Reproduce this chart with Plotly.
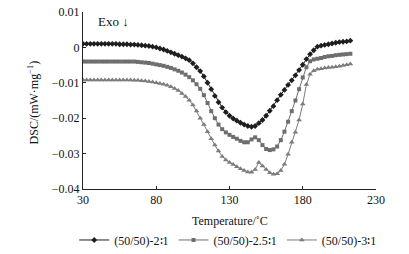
import plotly.graph_objects as go

temperature = [30 + 2.5 * i for i in range(74)]

dsc_2_1 = [0.0010, 0.0010, 0.0010, 0.0010, 0.0010, 0.0010, 0.0010, 0.0010, 0.0010, 0.0010,
           0.0009, 0.0009, 0.0009, 0.0008, 0.0008, 0.0007, 0.0006, 0.0005, 0.0004, 0.0002,
           0.0000, -0.0003, -0.0006, -0.0010, -0.0014, -0.0018, -0.0022, -0.0026, -0.0031, -0.0036,
           -0.0045, -0.0056, -0.0067, -0.0082, -0.0100, -0.0118, -0.0137, -0.0155, -0.0170, -0.0183,
           -0.0193, -0.0201, -0.0207, -0.0213, -0.0218, -0.0222, -0.0224, -0.0222, -0.0214, -0.0205,
           -0.0193, -0.0179, -0.0166, -0.0149, -0.0134, -0.0120, -0.0106, -0.0093, -0.0079, -0.0064,
           -0.0049, -0.0033, -0.0019, -0.0008, 0.0002, 0.0005, 0.0007, 0.0009, 0.0011, 0.0013,
           0.0015, 0.0016, 0.0017, 0.0019]

dsc_25_1 = [-0.0040, -0.0040, -0.0040, -0.0040, -0.0040, -0.0040, -0.0040, -0.0040, -0.0040, -0.0040,
            -0.0040, -0.0040, -0.0040, -0.0040, -0.0040, -0.0041, -0.0042, -0.0043, -0.0044, -0.0046,
            -0.0048, -0.0050, -0.0052, -0.0055, -0.0058, -0.0062, -0.0066, -0.0071, -0.0077, -0.0084,
            -0.0093, -0.0104, -0.0117, -0.0135, -0.0157, -0.0180, -0.0200, -0.0218, -0.0231, -0.0240,
            -0.0247, -0.0253, -0.0258, -0.0264, -0.0268, -0.0268, -0.0260, -0.0254, -0.0262, -0.0276,
            -0.0287, -0.0290, -0.0288, -0.0280, -0.0262, -0.0238, -0.0210, -0.0180, -0.0150, -0.0118,
            -0.0085, -0.0056, -0.0039, -0.0034, -0.0032, -0.0030, -0.0027, -0.0025, -0.0024, -0.0022,
            -0.0021, -0.0020, -0.0019, -0.0018]

dsc_3_1 = [-0.0092, -0.0092, -0.0092, -0.0092, -0.0092, -0.0092, -0.0092, -0.0092, -0.0092, -0.0092,
           -0.0092, -0.0092, -0.0092, -0.0092, -0.0093, -0.0093, -0.0094, -0.0095, -0.0096, -0.0098,
           -0.0100, -0.0102, -0.0104, -0.0107, -0.0111, -0.0116, -0.0122, -0.0130, -0.0139, -0.0149,
           -0.0163, -0.0180, -0.0200, -0.0218, -0.0238, -0.0258, -0.0276, -0.0293, -0.0308, -0.0318,
           -0.0325, -0.0331, -0.0337, -0.0343, -0.0348, -0.0352, -0.0353, -0.0345, -0.0325, -0.0335,
           -0.0345, -0.0354, -0.0358, -0.0357, -0.0348, -0.0330, -0.0302, -0.0268, -0.0240, -0.0205,
           -0.0160, -0.0105, -0.0076, -0.0066, -0.0062, -0.0060, -0.0058, -0.0057, -0.0056, -0.0055,
           -0.0053, -0.0051, -0.0049, -0.0047]

series_names = ["(50/50)-2\u22361", "(50/50)-2.5\u22361", "(50/50)-3\u22361"]

x_ticks = [30, 80, 130, 180, 230]
y_ticks = [0.01, 0, -0.01, -0.02, -0.03, -0.04]
y_tick_text = ["0.01", "0", "\u22120.01", "\u22120.02", "\u22120.03", "\u22120.04"]

FONT = "Liberation Serif"

fig = go.Figure()
styles = [
    dict(color="#1e1e1e", symbol="diamond", size=4.5),
    dict(color="#6e6e6e", symbol="square", size=4),
    dict(color="#7c7c7c", symbol="triangle-up", size=5),
]
for name, ys, st in zip(series_names, [dsc_2_1, dsc_25_1, dsc_3_1], styles):
    fig.add_trace(go.Scatter(
        x=temperature, y=ys, name=name, mode="lines+markers",
        line=dict(color=st["color"], width=1),
        marker=dict(color=st["color"], symbol=st["symbol"], size=st["size"], line=dict(width=0)),
    ))

fig.update_layout(
    width=409, height=254,
    margin=dict(l=83, r=33, t=12, b=65, autoexpand=False),
    paper_bgcolor="white", plot_bgcolor="white",
    font=dict(family=FONT, size=12, color="#111"),
    showlegend=True,
    legend=dict(orientation="h", x=-0.03, xanchor="left", y=-0.288, yanchor="middle",
                font=dict(family=FONT, size=12, color="#111"), itemwidth=30,
                tracegroupgap=0, bgcolor="rgba(0,0,0,0)"),
    xaxis=dict(range=[30, 230], tickvals=x_ticks, ticktext=[str(v) for v in x_ticks],
               showgrid=False, zeroline=False, showline=True, linecolor="#222", linewidth=1,
               ticks="inside", ticklen=3, tickcolor="#222", tickfont=dict(family=FONT, size=12),
               automargin=False),
    yaxis=dict(range=[-0.04, 0.01], tickvals=y_ticks, ticktext=y_tick_text,
               showgrid=False, zeroline=False, showline=True, linecolor="#222", linewidth=1,
               ticks="inside", ticklen=3, tickcolor="#222", tickfont=dict(family=FONT, size=12),
               automargin=False),
    annotations=[
        dict(text="Temperature/\u02daC", xref="paper", yref="paper", x=0.5, y=-0.18,
             xanchor="center", yanchor="middle", showarrow=False, font=dict(family=FONT, size=12)),
        dict(text="DSC/(mW\u00b7mg<sup>\u22121</sup>)", xref="paper", yref="paper", x=-0.17, y=0.49,
             xanchor="center", yanchor="middle", textangle=-90, showarrow=False,
             font=dict(family=FONT, size=12)),
        dict(text="Exo \u2193", xref="paper", yref="paper", x=0.045, y=1.0,
             xanchor="left", yanchor="top", showarrow=False, font=dict(family=FONT, size=13)),
    ],
)

fig.write_html("out.html", config={"displayModeBar": False},
               post_script="document.body.style.margin='0';")
